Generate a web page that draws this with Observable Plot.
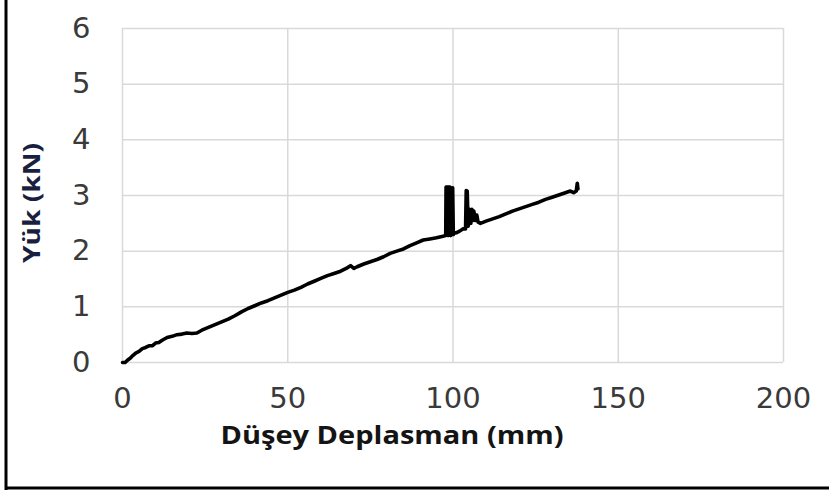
<!DOCTYPE html>
<html><head><meta charset="utf-8">
<script src="https://cdn.jsdelivr.net/npm/d3@7"></script>
<script src="https://cdn.jsdelivr.net/npm/@observablehq/plot@0.6"></script>
<style>body{margin:0;background:#fff}#chart{width:829px;height:491px}</style>
</head><body><div id="chart"></div>
<script>
const dispX = [0,0.8,1.5,2.4,3.2,4.0,5.0,6.0,7.0,8.0,9.0,10.0,11.0,12.0,13.5,15.0,16.5,18.0,19.5,21.0,22.5,24.0,26.0,28.0,30.0,32.0,34.0,36.0,38.0,40.0,42.0,44.0,46.0,48.0,50.0,52.0,54.0,56.0,58.0,60.0,62.0,64.0,66.0,68.0,69.0,70.0,71.0,73.0,75.0,77.0,79.0,81.0,83.0,85.0,87.0,89.0,91.0,93.0,95.0,97.0,97.8,97.9,98.1,98.3,98.5,98.7,98.9,99.1,99.3,99.5,99.7,99.9,100.1,100.3,101.0,102.0,103.0,103.8,104.0,104.3,104.6,105.0,105.4,105.7,106.0,106.3,106.8,107.2,107.6,108.3,110,112,114,116,118,120,122,124,126,128,130,132,134,135.5,136.5,137.3,137.6,137.8];
const loadY = [0,0.0,0.04,0.08,0.13,0.17,0.20,0.25,0.27,0.30,0.30,0.35,0.36,0.40,0.45,0.47,0.50,0.51,0.53,0.52,0.53,0.58,0.63,0.68,0.73,0.78,0.84,0.91,0.97,1.02,1.07,1.11,1.16,1.21,1.26,1.30,1.35,1.41,1.46,1.51,1.56,1.60,1.64,1.70,1.74,1.69,1.72,1.77,1.81,1.85,1.90,1.96,2.00,2.04,2.10,2.15,2.20,2.22,2.24,2.27,2.28,3.15,2.30,3.15,2.28,3.15,2.30,3.15,2.28,3.14,2.30,3.14,2.30,2.32,2.33,2.36,2.40,2.40,3.09,3.08,2.45,2.75,2.50,2.75,2.55,2.72,2.55,2.65,2.52,2.50,2.54,2.58,2.62,2.67,2.72,2.76,2.80,2.84,2.88,2.93,2.97,3.01,3.05,3.08,3.05,3.08,3.22,3.12];
const xTicks = [0,50,100,150,200];
const yTicks = [0,1,2,3,4,5,6];
const xLabel = "Düşey Deplasman (mm)";
const yLabel = "Yük (kN)";

const data = dispX.map((x,i)=>({x, y: loadY[i]}));

const plot = Plot.plot({
  width: 829, height: 491,
  marginLeft: 122, marginRight: 46, marginTop: 28, marginBottom: 129,
  style: {fontFamily: "DejaVu Sans", fontSize: "29px", color: "#3a3a3a", background: "white"},
  x: {domain: [0,200], ticks: xTicks, tickFormat: d3.format("d"), tickSize: 0, tickPadding: 25, label: null},
  y: {domain: [0,6], ticks: yTicks, tickFormat: d3.format("d"), tickSize: 0, tickPadding: 32, label: null},
  marks: [
    Plot.ruleX(xTicks, {stroke: "#d9d9d9", strokeWidth: 1.5}),
    Plot.ruleY(yTicks, {stroke: "#d9d9d9", strokeWidth: 1.5}),
    Plot.line(data, {x: "x", y: "y", stroke: "black", strokeWidth: 3.6, strokeLinejoin: "round", curve: "linear"})
  ]
});
const svg = d3.select(plot);
svg.append("text").attr("x", 392).attr("y", 437).attr("text-anchor","middle").attr("dominant-baseline","middle")
  .attr("font-family","Open Sans").attr("font-weight","bold").attr("font-size", 25).attr("fill","#141414")
  .attr("textLength", 343).attr("lengthAdjust","spacingAndGlyphs").text(xLabel);
svg.append("text").attr("transform","translate(34,203) rotate(-90)").attr("text-anchor","middle").attr("dominant-baseline","middle")
  .attr("font-family","Open Sans").attr("font-weight","bold").attr("font-size", 24).attr("fill","#1a1f40")
  .attr("textLength", 120).attr("lengthAdjust","spacingAndGlyphs").text(yLabel);
svg.append("line").attr("x1",6).attr("x2",6).attr("y1",0).attr("y2",490).attr("stroke","black").attr("stroke-width",3);
svg.append("line").attr("x1",5).attr("x2",829).attr("y1",488).attr("y2",488).attr("stroke","black").attr("stroke-width",3);
document.getElementById("chart").appendChild(plot);
</script></body></html>
